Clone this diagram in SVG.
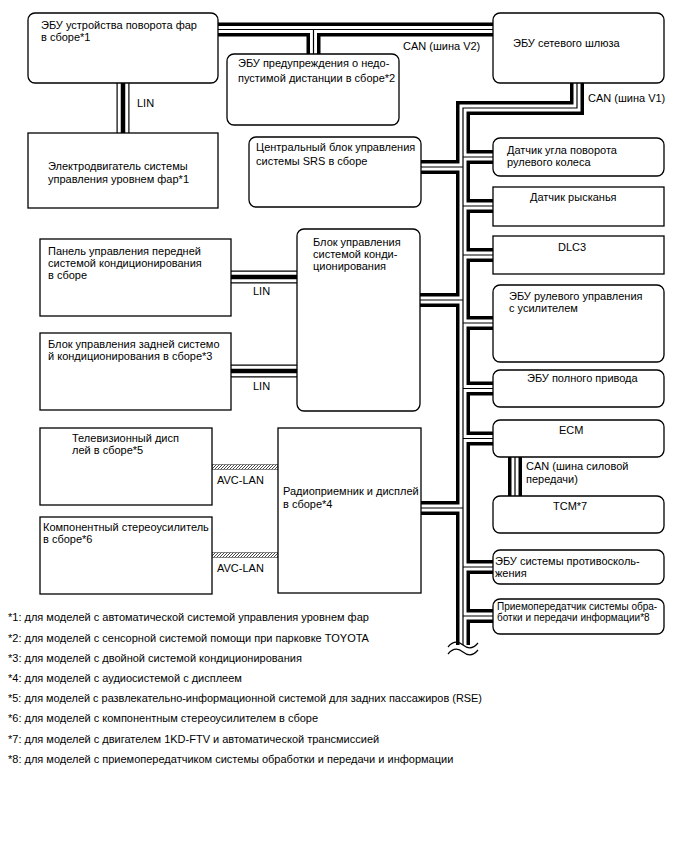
<svg xmlns="http://www.w3.org/2000/svg" xmlns:xlink="http://www.w3.org/1999/xlink" width="688" height="852" viewBox="0 0 688 852">
<style>
.box{fill:#fff;stroke:#000;stroke-width:1.3}
.t{font-family:"Liberation Sans",Arial,sans-serif;font-size:11px;fill:#000}
.s{font-size:10px}
.fn{font-family:"Liberation Sans",Arial,sans-serif;font-size:11px;fill:#000}
.cO{fill:none;stroke:#000;stroke-width:14}
.cW{fill:none;stroke:#fff;stroke-width:7}
.cC{fill:none;stroke:#000;stroke-width:1.2}
.lO{fill:none;stroke:#000;stroke-width:13}
.lW{fill:none;stroke:#fff;stroke-width:10.6}
.lC{fill:none;stroke:#000;stroke-width:4.5}
.avc{fill:url(#hatch);stroke:#444;stroke-width:0.6}
.wave{fill:none;stroke:#000;stroke-width:1.2}
</style>
<defs>
<pattern id="hatch" width="3" height="3" patternUnits="userSpaceOnUse">
<rect width="3" height="3" fill="#fff"/>
<path d="M-1,1 l2,-2 M0,3 l3,-3 M2,4 l2,-2" stroke="#333" stroke-width="0.9"/>
</pattern>
<path id="can" d="M212,29.5 H500 M313.5,29.5 V60 M577,78 V108 H463 V645 M463,157 H499 M463,206 H499 M463,255 H499 M463,323 H499 M463,388.5 H499 M463,438.5 H499 M463,567 H499 M463,616 H499 M415,167 H463 M414,300 H463 M415,508 H463 M515,452 V501"/>
<path id="lin" d="M123,78 V138 M225,277 H302 M225,371 H302"/>
</defs>
<g id="connectors">
<use href="#can" class="cO"/>
<use href="#can" class="cW"/>
<use href="#can" class="cC"/>
<use href="#lin" class="lO"/>
<use href="#lin" class="lW"/>
<use href="#lin" class="lC"/>
<rect class="avc" x="212" y="464.5" width="66" height="5"/>
<rect class="avc" x="212" y="552.5" width="66" height="5"/>
<path class="wave" d="M448,647 C453,641 458,641 463,645 S473,649 478,643"/>
<path class="wave" d="M448,654 C453,648 458,648 463,652 S473,656 478,650"/>
<text class="t" x="137" y="107">LIN</text>
<text class="t" x="253" y="294.5">LIN</text>
<text class="t" x="253" y="390">LIN</text>
<text class="t" x="403" y="50">CAN (шина V2)</text>
<text class="t" x="588" y="101.5">CAN (шина V1)</text>
<text class="t" x="526" y="469.5">CAN (шина силовой</text>
<text class="t" x="526" y="482.5">передачи)</text>
<text class="t" x="217" y="484">AVC-LAN</text>
<text class="t" x="217" y="572">AVC-LAN</text>
</g>
<g id="n_headlamp_ecu"><rect class="box" x="28" y="13" width="190" height="70" rx="7"/>
<text class="t" x="41" y="29">ЭБУ устройства поворота фар</text><text class="t" x="41" y="40.5">в сборе*1</text></g>
<g id="n_leveling_motor"><rect class="box" x="28" y="133" width="190" height="75"/>
<text class="t" x="48" y="169.5">Электродвигатель системы</text><text class="t" x="48" y="182.5">управления уровнем фар*1</text></g>
<g id="n_clearance_ecu"><rect class="box" x="227" y="54" width="172" height="71" rx="7"/>
<text class="t" x="238" y="66.5">ЭБУ предупреждения о недо-</text><text class="t" x="238" y="81.5">пустимой дистанции в сборе*2</text></g>
<g id="n_gateway"><rect class="box" x="493" y="13" width="171" height="70" rx="7"/>
<text class="t" x="513" y="47">ЭБУ сетевого шлюза</text></g>
<g id="n_srs"><rect class="box" x="249" y="137" width="172" height="70" rx="7"/>
<text class="t" x="256" y="151">Центральный блок управления</text><text class="t" x="256" y="164.5">системы SRS в сборе</text></g>
<g id="n_steer_sensor"><rect class="box" x="493" y="138" width="171" height="38" rx="7"/>
<text class="t" x="507" y="153.5">Датчик угла поворота</text><text class="t" x="507" y="166">рулевого колеса</text></g>
<g id="n_yaw"><rect class="box" x="493" y="187" width="171" height="39"/>
<text class="t" x="530" y="200.5">Датчик рысканья</text></g>
<g id="n_dlc3"><rect class="box" x="493" y="236" width="171" height="38"/>
<text class="t" x="558" y="250.5">DLC3</text></g>
<g id="n_eps"><rect class="box" x="493" y="285" width="171" height="77" rx="7"/>
<text class="t" x="509" y="299.5">ЭБУ рулевого управления</text><text class="t" x="509" y="312">с усилителем</text></g>
<g id="n_4wd"><rect class="box" x="493" y="370" width="171" height="37" rx="7"/>
<text class="t" x="527" y="382">ЭБУ полного привода</text></g>
<g id="n_ecm"><rect class="box" x="493" y="420" width="171" height="37" rx="7"/>
<text class="t" x="559" y="433.5">ECM</text></g>
<g id="n_tcm"><rect class="box" x="493" y="496" width="171" height="37" rx="7"/>
<text class="t" x="553" y="509.5">TCM*7</text></g>
<g id="n_skid"><rect class="box" x="493" y="550" width="171" height="34" rx="7"/>
<text class="t" x="495" y="564.5">ЭБУ системы противосколь-</text><text class="t" x="495" y="576.5">жения</text></g>
<g id="n_dcm"><rect class="box" x="493" y="599" width="171" height="35" rx="7"/>
<text class="t s" x="497" y="610">Приемопередатчик системы обра-</text><text class="t s" x="497" y="620.5">ботки и передачи информации*8</text></g>
<g id="n_front_ac"><rect class="box" x="40" y="239" width="191" height="77"/>
<text class="t" x="48" y="255">Панель управления передней</text><text class="t" x="48" y="267">системой кондиционирования</text><text class="t" x="48" y="279">в сборе</text></g>
<g id="n_rear_ac"><rect class="box" x="40" y="333" width="191" height="77"/>
<text class="t" x="48" y="348">Блок управления задней системо</text><text class="t" x="48" y="360">й кондиционирования в сборе*3</text></g>
<g id="n_ac_ecu"><rect class="box" x="297" y="229" width="123" height="182" rx="7"/>
<text class="t" x="313" y="246">Блок управления</text><text class="t" x="313" y="258">системой конди-</text><text class="t" x="313" y="270">ционирования</text></g>
<g id="n_tv"><rect class="box" x="40" y="428" width="172" height="77"/>
<text class="t" x="72" y="442">Телевизионный дисп</text><text class="t" x="72" y="454">лей в сборе*5</text></g>
<g id="n_amp"><rect class="box" x="40" y="517" width="172" height="77"/>
<text class="t" x="43" y="531">Компонентный стереоусилитель</text><text class="t" x="43" y="542.5">в сборе*6</text></g>
<g id="n_radio"><rect class="box" x="278" y="428" width="143" height="165"/>
<text class="t" x="283" y="495">Радиоприемник и дисплей</text><text class="t" x="283" y="507.5">в сборе*4</text></g>
<g id="footnotes">
<text class="fn" x="8" y="621">*1: для моделей с автоматической системой управления уровнем фар</text>
<text class="fn" x="8" y="641.5">*2: для моделей с сенсорной системой помощи при парковке TOYOTA</text>
<text class="fn" x="8" y="661.5">*3: для моделей с двойной системой кондиционирования</text>
<text class="fn" x="8" y="681.5">*4: для моделей с аудиосистемой с дисплеем</text>
<text class="fn" x="8" y="702" textLength="474" lengthAdjust="spacingAndGlyphs">*5: для моделей с развлекательно-информационной системой для задних пассажиров (RSE)</text>
<text class="fn" x="8" y="722">*6: для моделей с компонентным стереоусилителем в сборе</text>
<text class="fn" x="8" y="742.5">*7: для моделей с двигателем 1KD-FTV и автоматической трансмиссией</text>
<text class="fn" x="8" y="763">*8: для моделей с приемопередатчиком системы обработки и передачи и информации</text>
</g>
</svg>
